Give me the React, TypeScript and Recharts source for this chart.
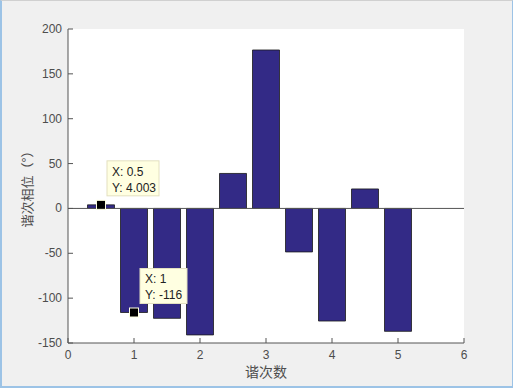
import { Bar, ComposedChart, ReferenceDot, ReferenceLine, XAxis, YAxis } from "recharts";

const harmonicOrders = [0.5, 1, 1.5, 2, 2.5, 3, 3.5, 4, 4.5, 5];
const phaseValues = [4.003, -116, -122.5, -141, 39, 176.6, -48.5, -125.5, 21.7, -137];
const xTicks = [0, 1, 2, 3, 4, 5, 6];
const yTicks = [-150, -100, -50, 0, 50, 100, 150, 200];
const dataTips = [
  { x: 0.5, y: 4.003, lines: ["X: 0.5", "Y: 4.003"], w: 52 },
  { x: 1, y: -116, lines: ["X: 1", "Y: -116"], w: 47 },
];

const data = harmonicOrders.map((order, i) => ({ order, phase: phaseValues[i] }));

const TICK_COLOR = "#4d4d4d";
const FONT = "Helvetica, 'Liberation Sans', Arial, sans-serif";

function BottomTick(props: any) {
  const { x, y, payload } = props;
  return (
    <g>
      <line x1={x} y1={y - 8} x2={x} y2={y - 13} stroke="#555" />
      <text x={x} y={y + 8} textAnchor="middle" fill={TICK_COLOR} fontSize={12} fontFamily={FONT}>
        {payload.value}
      </text>
    </g>
  );
}

function TopTick(props: any) {
  const { x, y } = props;
  return <line x1={x} y1={y + 8} x2={x} y2={y + 13} stroke="#555" />;
}

function LeftTick(props: any) {
  const { x, y, payload } = props;
  return (
    <g>
      <line x1={x + 6} y1={y} x2={x + 11} y2={y} stroke="#555" />
      <text x={x} y={y + 4} textAnchor="end" fill={TICK_COLOR} fontSize={12} fontFamily={FONT}>
        {payload.value}
      </text>
    </g>
  );
}

function RightTick(props: any) {
  const { x, y } = props;
  return <line x1={x - 6} y1={y} x2={x - 11} y2={y} stroke="#555" />;
}

function tipShape(tip: (typeof dataTips)[number]) {
  return (props: any) => {
    const { cx, cy } = props;
    return (
      <g>
        <rect
          x={cx + 6}
          y={cy - 44}
          width={tip.w}
          height={35}
          fill="#ffffe1"
          stroke="#e3e0c0"
        />
        {tip.lines.map((line, i) => (
          <text
            key={line}
            x={cx + 11}
            y={cy - 29 + i * 16}
            fontSize={12}
            fill="#222"
            fontFamily={FONT}
          >
            {line}
          </text>
        ))}
        <rect x={cx - 4.5} y={cy - 4.5} width={9} height={9} fill="#000" stroke="#ffffe1" strokeWidth={1} />
      </g>
    );
  };
}

export default function App() {
  return (
    <div
      style={{
        position: "fixed",
        left: 0,
        top: 0,
        width: 513,
        height: 388,
        boxSizing: "border-box",
        background: "#f0f0f0",
        borderLeft: "2px solid #9cc3e6",
        borderRight: "1px solid #9cc3e6",
        borderBottom: "2px solid #9cc3e6",
        borderTop: "1px solid #d0d0d0",
      }}
    >
      <div style={{ position: "absolute", left: -2, top: -1 }}>
        <ComposedChart
          width={513}
          height={388}
          data={data}
          margin={{ top: 29, right: 49, bottom: 0, left: 8 }}
        >
          <rect x={68} y={29} width={396} height={314} fill="#fff" />
          <XAxis
            xAxisId="bottom"
            dataKey="order"
            type="number"
            domain={[0, 6]}
            ticks={xTicks}
            interval={0}
            height={45}
            tickSize={0}
            tickMargin={8}
            tickLine={false}
            axisLine={{ stroke: "#555" }}
            tick={BottomTick}
            label={{
              value: "谐次数",
              position: "insideBottom",
              offset: 11,
              fill: TICK_COLOR,
              fontSize: 14,
              fontFamily: "'Noto Sans CJK SC', sans-serif",
            }}
          />
          <XAxis
            xAxisId="top"
            orientation="top"
            dataKey="order"
            type="number"
            domain={[0, 6]}
            ticks={xTicks}
            interval={0}
            height={0}
            tickSize={0}
            tickMargin={8}
            tickLine={false}
            axisLine={{ stroke: "#555" }}
            tick={TopTick}
          />
          <YAxis
            yAxisId="left"
            type="number"
            domain={[-150, 200]}
            ticks={yTicks}
            interval={0}
            width={60}
            tickSize={0}
            tickMargin={6}
            tickLine={false}
            axisLine={{ stroke: "#555" }}
            tick={LeftTick}
            label={{
              value: "谐次相位（°）",
              angle: -90,
              position: "insideLeft",
              offset: 19,
              fill: TICK_COLOR,
              fontSize: 13,
              fontFamily: "'Noto Sans CJK SC', sans-serif",
              style: { textAnchor: "middle" },
            }}
          />
          <YAxis
            yAxisId="right"
            orientation="right"
            type="number"
            domain={[-150, 200]}
            ticks={yTicks}
            interval={0}
            width={0}
            tickSize={0}
            tickMargin={6}
            tickLine={false}
            axisLine={{ stroke: "#555" }}
            tick={RightTick}
          />
          <Bar
            xAxisId="bottom"
            yAxisId="left"
            dataKey="phase"
            barSize={27}
            fill="#332a86"
            stroke="#1a1a1a"
            strokeWidth={0.8}
            isAnimationActive={false}
          />
          <ReferenceLine xAxisId="bottom" yAxisId="left" y={0} stroke="#555" />
          {dataTips.map((tip) => (
            <ReferenceDot
              key={tip.lines[0]}
              xAxisId="bottom"
              yAxisId="left"
              x={tip.x}
              y={tip.y}
              r={4}
              shape={tipShape(tip)}
            />
          ))}
        </ComposedChart>
      </div>
    </div>
  );
}
